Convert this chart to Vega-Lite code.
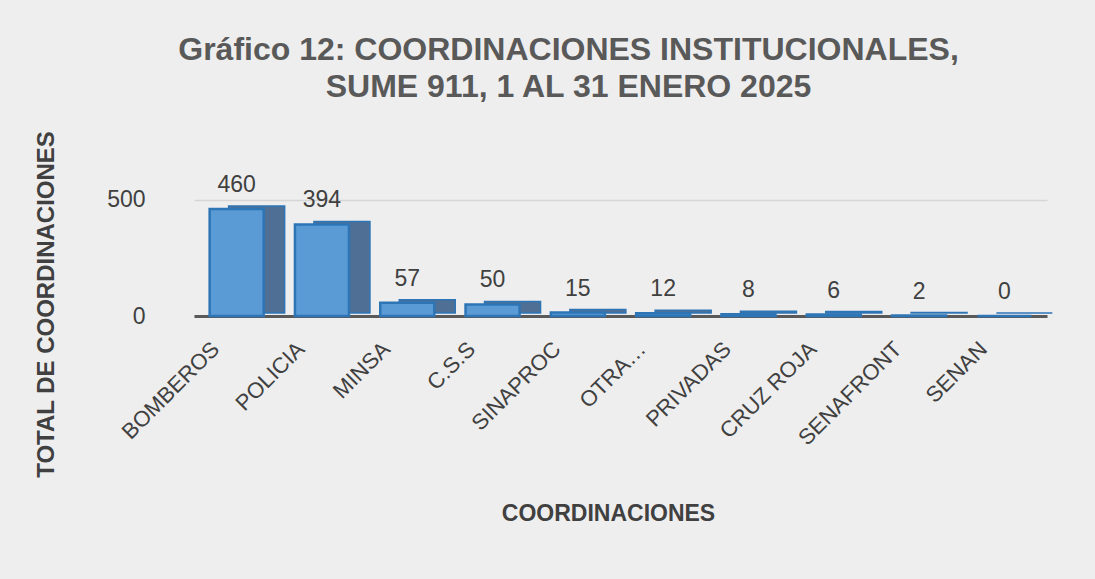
{
  "$schema": "https://vega.github.io/schema/vega-lite/v6.json",
  "autosize": "none",
  "width": 853,
  "height": 186,
  "padding": {"left": 194, "top": 130, "right": 48, "bottom": 263},
  "background": "#eeeeee",
  "title": {
    "text": ["Gráfico 12: COORDINACIONES INSTITUCIONALES,", "SUME 911, 1 AL 31 ENERO 2025"],
    "font": "Liberation Sans",
    "fontSize": 32,
    "fontWeight": "bold",
    "color": "#595959",
    "anchor": "middle",
    "dx": -52,
    "offset": 26,
    "lineHeight": 37
  },
  "data": {
    "values": [
      {"coordinacion": "BOMBEROS", "total": 460},
      {"coordinacion": "POLICIA", "total": 394},
      {"coordinacion": "MINSA", "total": 57},
      {"coordinacion": "C.S.S", "total": 50},
      {"coordinacion": "SINAPROC", "total": 15},
      {"coordinacion": "OTRA…", "total": 12},
      {"coordinacion": "PRIVADAS", "total": 8},
      {"coordinacion": "CRUZ ROJA", "total": 6},
      {"coordinacion": "SENAFRONT", "total": 2},
      {"coordinacion": "SENAN", "total": 0}
    ]
  },
  "encoding": {
    "x": {
      "field": "coordinacion",
      "type": "nominal",
      "sort": null,
      "scale": {"paddingInner": 0, "paddingOuter": 0},
      "axis": {
        "title": "COORDINACIONES",
        "titleFont": "Liberation Sans",
        "titleFontSize": 23,
        "titleFontWeight": "bold",
        "titleColor": "#404040",
        "titleY": 197,
        "titleBaseline": "middle",
        "titleX": 414,
        "labelAngle": -45,
        "labelFont": "Liberation Sans",
        "labelFontSize": 22,
        "labelColor": "#404040",
        "labelPadding": 22,
        "labelOffset": -28,
        "ticks": false,
        "domainColor": "#595959",
        "domainWidth": 3,
        "grid": false
      }
    },
    "y": {
      "field": "total",
      "type": "quantitative",
      "scale": {"domain": [0, 800]},
      "axis": {
        "title": "TOTAL DE COORDINACIONES",
        "titleFont": "Liberation Sans",
        "titleFontSize": 24,
        "titleFontWeight": "bold",
        "titleColor": "#404040",
        "titleX": -105,
        "titleY": 174,
        "titleAlign": "center",
        "titleAngle": -90,
        "titleBaseline": "middle",
        "values": [0, 500],
        "offset": 43,
        "domain": false,
        "ticks": false,
        "labelFont": "Liberation Sans",
        "labelFontSize": 23,
        "labelColor": "#404040",
        "labelPadding": 6,
        "grid": true,
        "gridColor": "#d6d6d6",
        "gridWidth": 1.5
      }
    }
  },
  "layer": [
    {
      "mark": {"type": "bar", "width": 56, "xOffset": 20, "yOffset": -3, "fill": "#4f6f94", "stroke": "#2e75b6", "strokeWidth": 1.5}
    },
    {
      "mark": {"type": "bar", "width": 54, "xOffset": 0, "fill": "#5b9bd5", "stroke": "#2e75b6", "strokeWidth": 2.5}
    },
    {
      "mark": {"type": "text", "baseline": "bottom", "dy": -12, "font": "Liberation Sans", "fontSize": 23, "color": "#404040"},
      "encoding": {"text": {"field": "total", "type": "quantitative"}}
    }
  ],
  "config": {"view": {"stroke": null}}
}
